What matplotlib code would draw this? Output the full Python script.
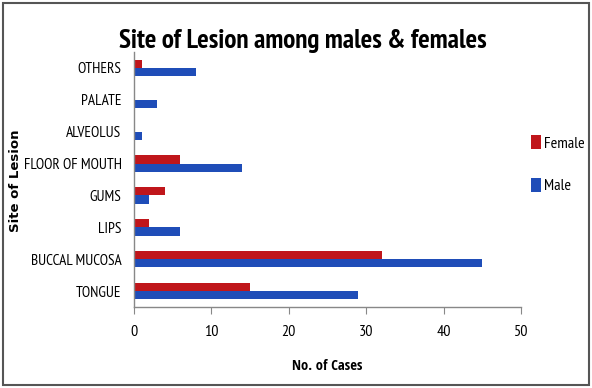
import matplotlib
matplotlib.use("Agg")
import matplotlib.pyplot as plt
import numpy as np
from matplotlib.patches import Rectangle

categories = ["TONGUE", "BUCCAL MUCOSA", "LIPS", "GUMS", "FLOOR OF MOUTH", "ALVEOLUS", "PALATE", "OTHERS"]
female = [15, 32, 2, 4, 6, 0, 0, 1]
male = [29, 45, 6, 2, 14, 1, 3, 8]
xticks = [0, 10, 20, 30, 40, 50]

NARROW = ['PT Sans Narrow', 'DejaVu Sans']
plt.rcParams['font.family'] = NARROW

fig = plt.figure(figsize=(5.92, 3.88), dpi=100)
ax = fig.add_axes([134/592, 81/388, (521-134)/592, (336-81)/388])

y = np.arange(len(categories))
h = 0.26
ax.barh(y + h/2, female, height=h, color="#C0161B", label="Female")
ax.barh(y - h/2, male, height=h, color="#1F4DB8", label="Male")

ax.set_xlim(0, 50)
ax.set_ylim(-0.5, len(categories) - 0.5)
ax.set_xticks(xticks)
ax.set_xticklabels([str(t) for t in xticks], fontsize=11.5)
ax.set_yticks(y)
ax.set_yticklabels(categories, fontsize=11)
ax.tick_params(axis='y', length=0, pad=9)
ax.tick_params(axis='x', length=5, color='#888888', pad=8, direction='out')
for s in ['top', 'right']:
    ax.spines[s].set_visible(False)
for s in ['left', 'bottom']:
    ax.spines[s].set_color('#888888')
    ax.spines[s].set_linewidth(1)

ax.set_xlabel("No. of Cases", fontsize=10.5, fontweight='bold', labelpad=14,
              family=['Open Sans Condensed', 'DejaVu Sans'])
fig.text(16/592, 1 - 181/388, "Site of Lesion", rotation=90, fontsize=9.5,
         fontweight='bold', family='DejaVu Sans', ha='center', va='center')

fig.text(303/592, 1 - 41/388, "Site of Lesion among males & females", fontsize=19.5,
         fontweight='bold', ha='center', va='center')

handles, labels = ax.get_legend_handles_labels()
leg = fig.legend(handles, labels, loc='upper left', bbox_to_anchor=(531/592, 1 - 135/388),
                 frameon=False, fontsize=11.5, handlelength=0.6, handleheight=1.0,
                 handletextpad=0.2, labelspacing=1.7, borderaxespad=0, borderpad=0)

fig.patches.append(Rectangle((3/592, 3/388), 586/592, 382/388, transform=fig.transFigure,
                             fill=False, edgecolor='#555555', linewidth=1.5))

fig.savefig("out.png", dpi=100)
